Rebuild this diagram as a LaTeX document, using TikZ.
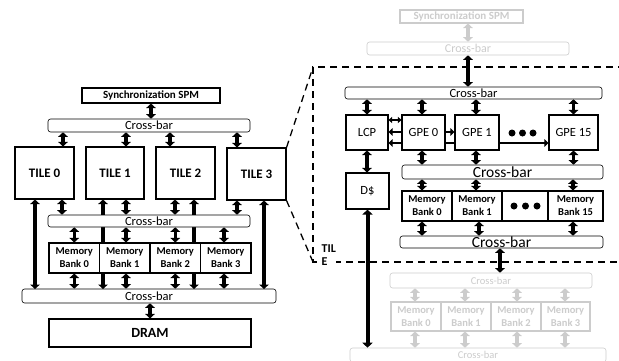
\documentclass[tikz,border=0pt]{standalone}
\usepackage{fontspec}
\setmainfont{Carlito}
\usetikzlibrary{arrows.meta}

\definecolor{faded}{gray}{0.80}
\newcommand{\tsize}[1]{\fontsize{#1}{#1}\selectfont}

\tikzset{
  box/.style={draw, line width=1.1pt, fill=white, inner sep=0pt, align=center},
  bar/.style={draw, line width=0.6pt, rounded corners=2.5pt, fill=white, inner sep=0pt},
  bank/.style={box, font=\bfseries\fontsize{10.5}{13}\selectfont},
  link/.style={line width=3.3pt, <->},
  thinlink/.style={line width=2.4pt, >={Triangle[width=7.5pt,length=4pt]}},
  faint/.style={draw=faded, text=faded},
  zoomline/.style={line width=1.3pt, dash pattern=on 7pt off 5pt},
}

\begin{document}
\begin{tikzpicture}[x=1pt, y=-1pt, >={Triangle[width=9.5pt,length=4.5pt]}]
    \useasboundingbox (0,0) rectangle (619,360);
    \clip (0,0) rectangle (619,360);

    % 1. whole chip: sync memory, tiles, banks, DRAM
    \node[box, minimum width=138, minimum height=15, font=\bfseries\tsize{11}] (sync) at (151,95.5) {Synchronization SPM};
    \node[bar, minimum width=202, minimum height=13, font=\tsize{12.5}] (cbtop) at (149,125.5) {Cross-bar};
    \node[box, minimum width=59, minimum height=52, font=\bfseries\tsize{13}] (tile0) at (44.5,173) {TILE 0};
    \node[box, minimum width=58, minimum height=52, font=\bfseries\tsize{13}] (tile1) at (115,173) {TILE 1};
    \node[box, minimum width=59, minimum height=52, font=\bfseries\tsize{13}] (tile2) at (185.5,173) {TILE 2};
    \node[box, minimum width=59, minimum height=52, font=\bfseries\tsize{13}] (tile3) at (256.5,174) {TILE 3};

    % long tile links run behind the cross-bars and banks
    \draw[link] (35,0 |- tile0.south) -- (35,0 |- 0,289);
    \draw[link] (103,0 |- tile1.south) -- (103,0 |- 0,289);
    \draw[link] (194,0 |- tile2.south) -- (194,0 |- 0,289);
    \draw[link] (264,0 |- tile3.south) -- (264,0 |- 0,289);

    \node[bar, minimum width=202, minimum height=12, font=\tsize{12.5}] (cbmid) at (149,221) {Cross-bar};
    \node[bank, minimum width=50.5, minimum height=30] (bank0) at (74.25,258) {Memory\\Bank 0};
    \node[bank, minimum width=50.5, minimum height=30] (bank1) at (124.75,258) {Memory\\Bank 1};
    \node[bank, minimum width=50.5, minimum height=30] (bank2) at (175.25,258) {Memory\\Bank 2};
    \node[bank, minimum width=50.5, minimum height=30] (bank3) at (225.75,258) {Memory\\Bank 3};
    \node[bar, minimum width=254, minimum height=14, font=\tsize{12.5}] (cbbot) at (149,296) {Cross-bar};
    \node[box, minimum width=202, minimum height=28, font=\bfseries\tsize{14}] (dram) at (150,333) {DRAM};

    \draw[link] (sync.south) -- (sync.south |- cbtop.north);
    \draw[link] (63,0 |- cbtop.south) -- (63,0 |- tile0.north);
    \draw[link] (126,0 |- cbtop.south) -- (126,0 |- tile1.north);
    \draw[link] (170,0 |- cbtop.south) -- (170,0 |- tile2.north);
    \draw[link] (237,0 |- cbtop.south) -- (237,0 |- tile3.north);
    \draw[link] (62,0 |- tile0.south) -- (62,0 |- cbmid.north);
    \draw[link] (126,0 |- tile1.south) -- (126,0 |- cbmid.north);
    \draw[link] (175,0 |- tile2.south) -- (175,0 |- cbmid.north);
    \draw[link] (237,0 |- tile3.south) -- (237,0 |- cbmid.north);
    \draw[link] (bank0.north |- cbmid.south) -- (bank0.north);
    \draw[link] (126,0 |- cbmid.south) -- (126,0 |- bank1.north);
    \draw[link] (bank2.north |- cbmid.south) -- (bank2.north);
    \draw[link] (224,0 |- cbmid.south) -- (224,0 |- bank3.north);
    \draw[link] (bank0.south) -- (bank0.south |- cbbot.north);
    \draw[link] (126,0 |- bank1.south) -- (126,0 |- cbbot.north);
    \draw[link] (bank2.south) -- (bank2.south |- cbbot.north);
    \draw[link] (224,0 |- bank3.south) -- (224,0 |- cbbot.north);
    \draw[link] (150,0 |- cbbot.south) -- (150,0 |- dram.north);

    % 2. zoom lines from TILE 3
    \coordinate (ztop) at (313,67);
    \coordinate (zbot) at (313,262);
    \draw[zoomline] (tile3.north east) -- (ztop);
    \draw[zoomline] (tile3.south east) -- (zbot);
    \draw[zoomline] (625,67) -- (ztop) -- (zbot) -- (625,262);
    \node[font=\bfseries\fontsize{12}{13}\selectfont, align=left, inner sep=0.5pt, fill=white, anchor=north west] (tilename) at (321,244) {TIL\\E};

    % 3. faded neighbours above the tile
    \node[box, faint, minimum width=123, minimum height=13, font=\bfseries\tsize{11}] (gsync) at (461.5,16.5) {Synchronization SPM};
    \node[bar, faint, minimum width=202, minimum height=13, font=\tsize{12}] (gcbtop) at (468,48.5) {Cross-bar};
    \draw[link, faded] (468,0 |- gsync.south) -- (468,0 |- gcbtop.north);

    % 4. inside the tile
    \node[bar, minimum width=257, minimum height=12, font=\tsize{12.5}] (cba) at (473.5,93) {Cross-bar};
    \draw[link] (468,0 |- gcbtop.south) -- (468,0 |- cba.north);
    \node[box, minimum width=42, minimum height=35, font=\tsize{12.5}] (lcp) at (367,132.5) {LCP};
    \node[box, minimum width=43, minimum height=35, font=\tsize{12.5}] (gpe0) at (423.5,132.5) {GPE 0};
    \node[box, minimum width=49, minimum height=35, font=\tsize{12.5}] (gpe15) at (573.5,132.5) {GPE 15};
    \draw[thinlink, ->] (gpe0.east |- 0,143) -- (gpe15.west |- 0,143);
    \node[box, minimum width=44, minimum height=35, font=\tsize{12.5}] (gpe1) at (477,132.5) {GPE 1};
    \fill (512,133) circle (3.5) (522.5,133) circle (3.5) (533,133) circle (3.5);

    \draw[thinlink, <->, line width=1.6pt, >={Triangle[width=6pt,length=3.5pt]}] (lcp.east |- 0,120) -- (gpe0.west |- 0,120);
    \draw[thinlink, ->] (gpe0.west |- 0,132) -- (lcp.east |- 0,132);
    \draw[thinlink, ->] (gpe0.west |- 0,143) -- (lcp.east |- 0,143);
    \draw[thinlink, ->] (gpe0.east |- 0,132) -- (gpe1.west |- 0,132);

    \draw[link] (lcp.north |- cba.south) -- (lcp.north);
    \draw[link] (422,0 |- cba.south) -- (422,0 |- gpe0.north);
    \draw[link] (476,0 |- cba.south) -- (476,0 |- gpe1.north);
    \draw[link] (gpe15.north |- cba.south) -- (gpe15.north);

    \node[bar, minimum width=201, minimum height=14, font=\tsize{15.5}] (cbb) at (502.5,172) {Cross-bar};
    \draw[link] (422,0 |- gpe0.south) -- (422,0 |- cbb.north);
    \draw[link] (476,0 |- gpe1.south) -- (476,0 |- cbb.north);
    \draw[link] (gpe15.south) -- (gpe15.south |- cbb.north);

    \node[bank, minimum width=50, minimum height=30] (rbank0) at (427,206) {Memory\\Bank 0};
    \node[bank, minimum width=50, minimum height=30] (rbank1) at (477,206) {Memory\\Bank 1};
    \node[box, minimum width=46, minimum height=30] (rdots) at (525,206) {};
    \fill (514,206) circle (3.5) (525.5,206) circle (3.5) (537,206) circle (3.5);
    \node[bank, minimum width=55, minimum height=30] (rbank15) at (575.5,206) {Memory\\Bank 15};
    \draw[link] (422,0 |- cbb.south) -- (422,0 |- rbank0.north);
    \draw[link] (476,0 |- cbb.south) -- (476,0 |- rbank1.north);
    \draw[link] (573,0 |- cbb.south) -- (573,0 |- rbank15.north);

    \node[bar, minimum width=203, minimum height=12, font=\tsize{15.5}] (cbc) at (501.5,242) {Cross-bar};
    \draw[link] (422,0 |- rbank0.south) -- (422,0 |- cbc.north);
    \draw[link] (479,0 |- rbank1.south) -- (479,0 |- cbc.north);
    \draw[link] (573,0 |- rbank15.south) -- (573,0 |- cbc.north);

    \node[box, minimum width=43, minimum height=36, font=\tsize{12.5}] (dcache) at (367.5,191) {D\$};
    \draw[link] (lcp.south) -- (lcp.south |- dcache.north);

    % 5. faded neighbours below the tile
    \node[bar, faint, minimum width=202, minimum height=15, font=\tsize{10.5}] (gcbmid) at (491,280.5) {Cross-bar};
    \draw[link] (500,0 |- cbc.south) -- (500,0 |- gcbmid.north);
    \node[bank, faint, minimum width=50, minimum height=29] (gbank0) at (416,316.5) {Memory\\Bank 0};
    \node[bank, faint, minimum width=50, minimum height=29] (gbank1) at (466,316.5) {Memory\\Bank 1};
    \node[bank, faint, minimum width=50, minimum height=29] (gbank2) at (516,316.5) {Memory\\Bank 2};
    \node[bank, faint, minimum width=49, minimum height=29] (gbank3) at (565.5,316.5) {Memory\\Bank 3};
    \node[bar, faint, minimum width=256, minimum height=14, font=\tsize{10.5}] (gcbbot) at (478,355) {Cross-bar};
    \draw[link, faded] (415,0 |- gcbmid.south) -- (415,0 |- gbank0.north);
    \draw[link, faded] (465,0 |- gcbmid.south) -- (465,0 |- gbank1.north);
    \draw[link, faded] (517,0 |- gcbmid.south) -- (517,0 |- gbank2.north);
    \draw[link, faded] (565,0 |- gcbmid.south) -- (565,0 |- gbank3.north);
    \draw[link, faded] (415,0 |- gbank0.south) -- (415,0 |- gcbbot.north);
    \draw[link, faded] (465,0 |- gbank1.south) -- (465,0 |- gcbbot.north);
    \draw[link, faded] (517,0 |- gbank2.south) -- (517,0 |- gcbbot.north);
    \draw[link, faded] (565,0 |- gbank3.south) -- (565,0 |- gcbbot.north);

    \draw[link, line width=4pt, >={Triangle[width=10pt,length=5pt]}] (dcache.south) -- (dcache.south |- gcbbot.north);
\end{tikzpicture}
\end{document}
